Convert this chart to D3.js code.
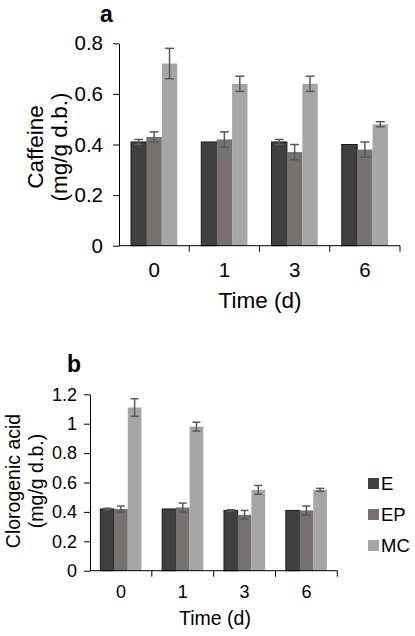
<!DOCTYPE html>
<html>
<head>
<meta charset="utf-8">
<script src="https://cdn.jsdelivr.net/npm/d3@7"></script>
<style>
  body { margin: 0; background: #fff; }
  svg text { font-family: "Liberation Sans", Arial, sans-serif; fill: #000; }
</style>
</head>
<body>
<svg id="chart" width="415" height="636"></svg>
<script>
// categories
var days = ["0", "1", "3", "6"]
var seriesNames = ["E", "EP", "MC"]
var seriesColors = ["#404040", "#767171", "#a6a6a6"]

// panel a: caffeine (mg/g d.b.)
var caffeineE = [0.41, 0.41, 0.41, 0.40]
var caffeineEP = [0.43, 0.42, 0.37, 0.38]
var caffeineMC = [0.72, 0.64, 0.64, 0.48]
var caffeineErrE = [0.01, 0, 0.01, 0]
var caffeineErrEP = [0.02, 0.03, 0.03, 0.03]
var caffeineErrMC = [0.06, 0.03, 0.03, 0.01]
var caffeineTicks = [0, 0.2, 0.4, 0.6, 0.8]

// panel b: clorogenic acid (mg/g d.b.)
var acidE = [0.42, 0.42, 0.41, 0.41]
var acidEP = [0.42, 0.43, 0.38, 0.41]
var acidMC = [1.11, 0.98, 0.55, 0.55]
var acidErrE = [0.005, 0, 0.005, 0]
var acidErrEP = [0.02, 0.03, 0.03, 0.03]
var acidErrMC = [0.06, 0.03, 0.03, 0.01]
var acidTicks = [0, 0.2, 0.4, 0.6, 0.8, 1, 1.2]

var SVG = d3.select("#chart")

// flatten the series arrays into one row per bar
function makeRows(values, errors) {
  var rows = []
  days.forEach(function(day, i) {
    seriesNames.forEach(function(name, s) {
      rows.push({day: day, series: name, value: values[s][i], err: errors[s][i]})
    })
  })
  return rows
}

function drawPanel(p) {
  var g = SVG.append("g")

  var x = d3.scaleBand().domain(days).range([p.left, p.right])
  var xSub = d3.scaleBand().domain(seriesNames)
    .range([0, x.bandwidth()])
    .paddingOuter(p.barPad)
  var y = d3.scaleLinear().domain([0, p.max]).range([p.bottom, p.top])
  var color = d3.scaleOrdinal().domain(seriesNames).range(seriesColors)

  var rows = makeRows(p.values, p.errors)

  g.selectAll(".bar")
    .data(rows)
    .enter().append("rect")
    .attr("class", "bar")
    .attr("x", function(d) { return x(d.day) + xSub(d.series) })
    .attr("y", function(d) { return y(d.value) })
    .attr("width", xSub.bandwidth())
    .attr("height", function(d) { return y(0) - y(d.value) })
    .attr("fill", function(d) { return color(d.series) })
    .attr("stroke", function(d) { return d.series == "E" ? "#1a1a1a" : "none" })
    .attr("stroke-width", 1)

  // error bars
  var errs = g.selectAll(".err")
    .data(rows.filter(function(d) { return d.err > 0 }))
    .enter().append("g")
    .attr("class", "err")
    .attr("stroke", "#595959")
    .attr("stroke-width", 1.5)
  function cx(d) { return x(d.day) + xSub(d.series) + xSub.bandwidth() / 2 }
  errs.append("line")
    .attr("x1", cx).attr("x2", cx)
    .attr("y1", function(d) { return y(d.value + d.err) })
    .attr("y2", function(d) { return y(d.value - d.err) })
  errs.selectAll(".cap")
    .data(function(d) { return [d.value + d.err, d.value - d.err].map(function(v) { return {d: d, v: v} }) })
    .enter().append("line")
    .attr("x1", function(c) { return cx(c.d) - p.cap })
    .attr("x2", function(c) { return cx(c.d) + p.cap })
    .attr("y1", function(c) { return y(c.v) })
    .attr("y2", function(c) { return y(c.v) })

  // y axis
  var yAxis = g.append("g")
    .attr("transform", "translate(" + p.left + ",0)")
    .call(d3.axisLeft(y).tickValues(p.ticks).tickFormat(d3.format("~g"))
      .tickSize(6).tickSizeOuter(0).tickPadding(p.tickPad))
  yAxis.selectAll("text").attr("font-size", p.tickFont).attr("fill", "#000")
    .attr("font-family", "Liberation Sans, Arial, sans-serif")

  // x axis: ticks sit on the band edges, labels in the band centres
  var xAxis = g.append("g")
    .attr("transform", "translate(0," + p.bottom + ")")
  xAxis.append("line")
    .attr("x1", p.left).attr("x2", p.right)
    .attr("stroke", "#000")
  xAxis.selectAll(".xtick")
    .data(days)
    .enter().append("line")
    .attr("class", "xtick")
    .attr("x1", function(d) { return x(d) + x.bandwidth() })
    .attr("x2", function(d) { return x(d) + x.bandwidth() })
    .attr("y1", 0).attr("y2", 6)
    .attr("stroke", "#000")
  xAxis.selectAll(".xlab")
    .data(days)
    .enter().append("text")
    .attr("class", "xlab")
    .attr("x", function(d) { return x(d) + x.bandwidth() / 2 })
    .attr("y", p.xLabelY - p.bottom)
    .attr("text-anchor", "middle")
    .attr("font-size", p.tickFont)
    .text(function(d) { return d })

  g.append("text")
    .attr("x", p.timeX).attr("y", p.timeY)
    .attr("text-anchor", "middle")
    .attr("font-size", p.titleFont)
    .text("Time (d)")

  // two-line y title
  var yt = g.append("text")
    .attr("transform", "translate(" + p.yTitleX + "," + p.yTitleY + ") rotate(-90)")
    .attr("text-anchor", "middle")
    .attr("font-size", p.titleFont)
  yt.append("tspan").attr("x", 0).attr("y", 0).text(p.yTitle)
  yt.append("tspan").attr("x", 0).attr("y", p.yTitleGap).text("(mg/g d.b.)")

  g.append("text")
    .attr("x", p.letterX).attr("y", p.letterY)
    .attr("font-size", 23)
    .attr("font-weight", "bold")
    .text(p.letter)
}

drawPanel({
  letter: "a", letterX: 100, letterY: 22,
  left: 119, right: 400, top: 43.3, bottom: 245.7, max: 0.8,
  ticks: caffeineTicks, barPad: 0.78, cap: 4.5,
  values: [caffeineE, caffeineEP, caffeineMC],
  errors: [caffeineErrE, caffeineErrEP, caffeineErrMC],
  tickFont: 20.5, tickPad: 10, titleFont: 22.5,
  xLabelY: 277, timeX: 260, timeY: 308,
  yTitle: "Caffeine", yTitleX: 43, yTitleY: 147, yTitleGap: 24
})

drawPanel({
  letter: "b", letterX: 67, letterY: 372,
  left: 90, right: 337.3, top: 394.3, bottom: 570.7, max: 1.2,
  ticks: acidTicks, barPad: 0.755, cap: 4,
  values: [acidE, acidEP, acidMC],
  errors: [acidErrE, acidErrEP, acidErrMC],
  tickFont: 18, tickPad: 7, titleFont: 19.5,
  xLabelY: 598, timeX: 215, timeY: 625,
  yTitle: "Clorogenic acid", yTitleX: 20, yTitleY: 481, yTitleGap: 23
})

// legend for panel b
var legend = SVG.append("g")
  .selectAll(".legend")
  .data(seriesNames)
  .enter().append("g")
  .attr("class", "legend")
  .attr("transform", function(d, i) { return "translate(368," + (478 + i * 31) + ")" })
legend.append("rect")
  .attr("width", 11).attr("height", 11)
  .attr("fill", function(d, i) { return seriesColors[i] })
legend.append("text")
  .attr("x", 13).attr("y", 11.5)
  .attr("font-size", 18.5)
  .text(function(d) { return d })
</script>
</body>
</html>
